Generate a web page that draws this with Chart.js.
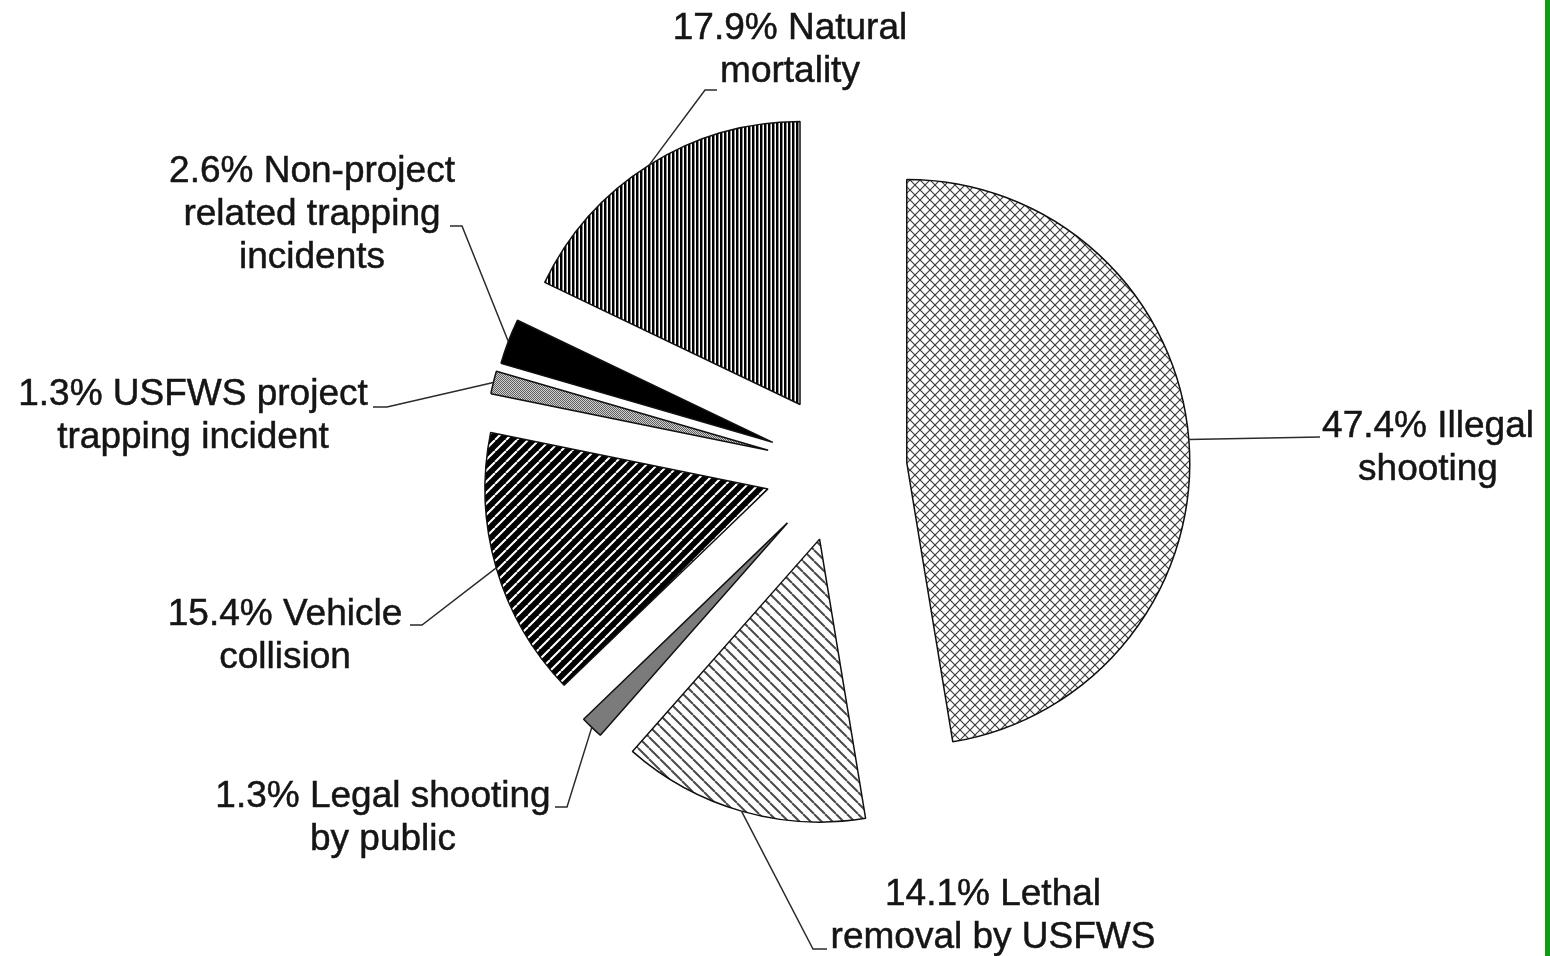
<!DOCTYPE html>
<html lang="en">
<head>
<meta charset="UTF-8">
<title>Mortality causes</title>
<script src="https://cdn.jsdelivr.net/npm/chart.js@4"></script>
<style>
  body { margin: 0; background: #fff; }
  #wrap { position: relative; width: 1550px; height: 956px; }
  #edge { position: absolute; right: 0; top: 0; width: 5px; height: 956px; background: #149a14; }
</style>
</head>
<body>
<div id="wrap">
  <canvas id="pie"></canvas>
  <div id="edge"></div>
</div>
<script>
const categories = ['Illegal shooting', 'Lethal removal by USFWS', 'Legal shooting by public', 'Vehicle collision',
  'USFWS project trapping incident', 'Non-project related trapping incidents', 'Natural mortality'];
const percents = [47.4, 14.1, 1.3, 15.4, 1.3, 2.6, 17.9];
// how the label text wraps
const labelLines = [
  ['Illegal', 'shooting'],
  ['Lethal', 'removal by USFWS'],
  ['Legal shooting', 'by public'],
  ['Vehicle', 'collision'],
  ['USFWS project', 'trapping incident'],
  ['Non-project', 'related trapping', 'incidents'],
  ['Natural', 'mortality']
];

// how far each slice is pulled out (px) and the pie radius
const explode = [67, 74, 76, 75, 74, 72, 75];
const pieRadius = 283;

// label placement: centre x, first baseline, then the leader line bends
const labelPos = [
  {x: 1428, y: 437, leader: [[1320, 437]]},
  {x: 993, y: 905, leader: [[813, 949], [827, 949]]},
  {x: 383, y: 807, leader: [[567, 807], [555, 807]]},
  {x: 285, y: 625, leader: [[422, 625], [410, 625]]},
  {x: 193, y: 405, leader: [[387, 407], [373, 407]]},
  {x: 312, y: 182, leader: [[462, 226], [450, 226]]},
  {x: 790, y: 39, leader: [[705, 90], [717, 90]]}
];

const canvas = document.getElementById('pie');
const ctx = canvas.getContext('2d');

function makePattern(w, h, draw) {
  const c = document.createElement('canvas');
  c.width = w; c.height = h;
  const g = c.getContext('2d');
  draw(g, w, h);
  return ctx.createPattern(c, 'repeat');
}

function diag(g, w, h, up) {
  g.beginPath();
  for (let k = -1; k <= 1; k++) {
    if (up) { g.moveTo(k * w, h); g.lineTo(k * w + w, 0); }
    else { g.moveTo(k * w, 0); g.lineTo(k * w + w, h); }
  }
  g.stroke();
}

const crossHatch = makePattern(10, 10, (g, w, h) => {
  g.fillStyle = '#fff'; g.fillRect(0, 0, w, h);
  g.strokeStyle = '#3f3f3f'; g.lineWidth = 1.2;
  diag(g, w, h, true); diag(g, w, h, false);
});
const lightDiag = makePattern(11, 11, (g, w, h) => {
  g.fillStyle = '#fff'; g.fillRect(0, 0, w, h);
  g.strokeStyle = '#4a4a4a'; g.lineWidth = 2;
  diag(g, w, h, false);
});
const darkDiag = makePattern(11, 11, (g, w, h) => {
  g.fillStyle = '#000'; g.fillRect(0, 0, w, h);
  g.strokeStyle = '#fff'; g.lineWidth = 2.1;
  diag(g, w, h, true);
});
const vertLines = makePattern(4, 4, (g, w, h) => {
  g.fillStyle = '#fff'; g.fillRect(0, 0, w, h);
  g.fillStyle = '#000'; g.fillRect(0, 0, 2, h);
  g.fillStyle = '#8a8a8a'; g.fillRect(2, 0, 1, h);
});
const fineDots = makePattern(2, 2, (g, w, h) => {
  g.fillStyle = '#d0d0d0'; g.fillRect(0, 0, w, h);
  g.fillStyle = '#606060'; g.fillRect(0, 0, 1, 1); g.fillRect(1, 1, 1, 1);
});

const fills = [crossHatch, lightDiag, '#7b7b7b', darkDiag, fineDots, '#000', vertLines];

// pull every slice out from the centre along its own middle angle
const explodeSlices = {
  id: 'explodeSlices',
  afterDatasetUpdate(chart, args) {
    args.meta.data.forEach((arc, i) => {
      const mid = (arc.startAngle + arc.endAngle) / 2;
      arc.x += Math.cos(mid) * explode[i];
      arc.y += Math.sin(mid) * explode[i];
    });
  }
};

const sliceLabels = {
  id: 'sliceLabels',
  afterDraw(chart) {
    const c = chart.ctx;
    const arcs = chart.getDatasetMeta(0).data;
    c.save();
    arcs.forEach((arc, i) => {
      const mid = (arc.startAngle + arc.endAngle) / 2;
      const pos = labelPos[i];
      c.strokeStyle = '#2b2b2b';
      c.lineWidth = 1.5;
      c.beginPath();
      c.moveTo(arc.x + Math.cos(mid) * arc.outerRadius, arc.y + Math.sin(mid) * arc.outerRadius);
      pos.leader.forEach(p => c.lineTo(p[0], p[1]));
      c.stroke();

      c.fillStyle = '#151515';
      c.strokeStyle = '#151515';
      c.lineWidth = 0.5;
      c.font = '37px "Liberation Sans", Arial, sans-serif';
      c.textAlign = 'center';
      c.textBaseline = 'alphabetic';
      labelLines[i].forEach((t, k) => {
        const txt = k === 0 ? percents[i].toFixed(1) + '% ' + t : t;
        c.fillText(txt, pos.x, pos.y + k * 43);
        c.strokeText(txt, pos.x, pos.y + k * 43);
      });
    });
    c.restore();
  }
};

new Chart(ctx, {
  type: 'pie',
  data: {
    labels: categories,
    datasets: [{
      data: percents,
      backgroundColor: fills,
      borderColor: '#111',
      borderWidth: 1.5
    }]
  },
  options: {
    responsive: true,
    maintainAspectRatio: false,
    animation: false,
    events: [],
    radius: pieRadius,
    layout: { padding: { left: 130, right: 0, top: 0, bottom: 20 } },
    plugins: { legend: { display: false }, tooltip: { enabled: false } }
  },
  plugins: [explodeSlices, sliceLabels]
});
</script>
</body>
</html>
